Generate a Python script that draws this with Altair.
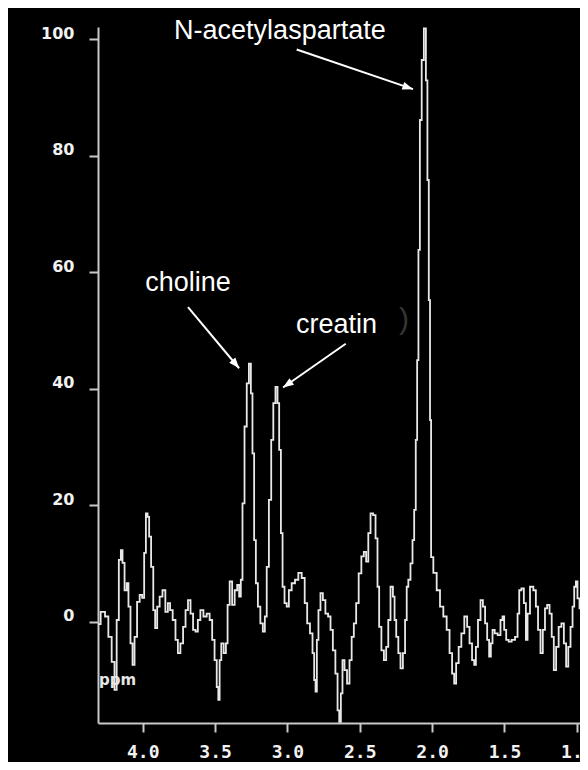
import math
import altair as alt
import pandas as pd

# ---- spectrum trace (chemical shift in ppm, signal intensity) ----
ppm = [4.309,4.272,4.249,4.226,4.203,4.187,4.173,4.157,4.145,4.134,
       4.117,4.104,4.093,4.076,4.065,4.048,4.030,4.012,3.996,3.984,
       3.972,3.961,3.950,3.934,3.920,3.908,3.892,3.874,3.853,3.834,
       3.818,3.804,3.782,3.765,3.749,3.730,3.712,3.696,3.678,3.661,
       3.643,3.627,3.611,3.592,3.569,3.547,3.528,3.512,3.495,3.482,
       3.473,3.464,3.450,3.431,3.419,3.408,3.390,3.374,3.355,3.339,
       3.328,3.316,3.305,3.288,3.274,3.258,3.247,3.236,3.224,3.212,
       3.196,3.178,3.162,3.150,3.136,3.120,3.104,3.091,3.074,3.063,
       3.051,3.039,3.028,3.012,2.998,2.982,2.959,2.936,2.913,2.890,
       2.871,2.856,2.832,2.821,2.809,2.802,2.791,2.780,2.763,2.747,
       2.728,2.710,2.694,2.678,2.659,2.648,2.636,2.625,2.614,2.597,
       2.579,2.563,2.549,2.533,2.517,2.498,2.480,2.464,2.448,2.434,
       2.417,2.399,2.383,2.372,2.360,2.341,2.325,2.310,2.296,2.279,
       2.263,2.256,2.240,2.227,2.210,2.194,2.180,2.171,2.158,2.141,
       2.130,2.118,2.108,2.099,2.090,2.079,2.065,2.049,2.037,2.028,
       2.018,2.011,2.003,1.980,1.957,1.934,1.911,1.888,1.871,1.853,
       1.842,1.826,1.807,1.789,1.766,1.750,1.733,1.715,1.703,1.692,
       1.674,1.657,1.641,1.627,1.612,1.600,1.588,1.577,1.558,1.536,
       1.519,1.508,1.496,1.480,1.462,1.439,1.415,1.404,1.392,1.374,
       1.358,1.346,1.335,1.312,1.289,1.277,1.259,1.243,1.227,1.213,
       1.197,1.180,1.167,1.151,1.135,1.116,1.097,1.082,1.066,1.052,
       1.035,1.024,1.012,1.001,0.990,0.973,0.955,0.936,0.923]

intensity = [-0.4,1.7,0.9,-2.6,-6.9,-11.7,0.3,10.6,12.3,10.1,
             5.4,6.6,2.6,-3.7,-7.4,-2.6,3.4,4.6,4.1,11.8,
             18.6,18.0,14.6,9.4,2.0,-1.1,2.6,4.3,5.4,1.7,
             3.2,2.0,0.3,-3.1,-5.4,-3.7,-0.9,2.0,3.7,1.4,
             -1.4,-1.7,0.3,2.0,0.9,1.4,0.3,-3.1,-6.6,-11.2,
             -13.4,-6.6,-3.7,-5.4,-3.7,2.9,6.9,2.9,5.4,6.3,
             4.3,7.2,20.3,33.5,40.9,44.3,39.2,28.9,14.0,6.6,
             2.6,-0.3,-1.7,0.9,9.4,20.9,31.2,37.5,40.3,37.5,
             29.5,15.2,6.0,3.2,2.6,5.4,6.6,7.2,8.4,7.5,
             3.2,-0.3,-2.0,-5.4,-10.0,-12.0,-3.1,2.0,4.9,3.7,
             1.4,0.9,-1.4,-4.9,-8.9,-15.2,-17.2,-12.3,-6.6,-8.3,
             -10.6,-6.6,-2.6,-0.3,3.2,8.3,11.2,12.0,10.3,15.2,
             18.6,18.3,14.3,6.0,-0.9,-4.9,-6.6,-4.3,0.3,6.0,
             4.3,0.3,-2.6,-5.4,-8.0,-5.4,0.3,6.0,7.2,10.0,
             14.0,19.2,31.2,44.9,63.8,86.1,96.4,101.8,92.9,75.8,
             55.2,34.6,11.1,8.4,5.4,2.6,0.9,-1.4,-5.4,-8.9,
             -10.6,-7.1,-4.3,-2.0,0.9,-0.9,-3.7,-6.6,-7.4,-4.3,
             0.3,3.7,2.6,-0.3,-3.1,-6.0,-3.7,-1.4,-2.0,-2.3,
             0.3,0.9,-1.4,-3.1,-3.4,-3.1,-2.6,1.4,5.4,5.7,
             3.2,-3.1,1.4,6.0,5.4,2.6,-1.4,-5.4,-1.4,2.3,
             2.9,1.4,-2.6,-8.3,-4.3,-0.9,-0.3,-3.7,-7.7,-4.3,
             -0.9,2.6,6.0,6.9,4.0,2.3,1.7,1.7,0.9]

x_ticks = [4.0, 3.5, 3.0, 2.5, 2.0, 1.5, 1.0]
y_ticks = [0, 20, 40, 60, 80, 100]

# ---- annotations ----
label_text = ["N-acetylaspartate", "choline", "creatin"]
label_ppm = [3.052, 3.687, 2.661]
label_val = [100.0, 56.7, 49.5]

arrow_ppm_start = [2.936, 3.687, 2.597]
arrow_val_start = [98.2, 54.0, 47.7]
arrow_ppm_end = [2.132, 3.334, 3.030]
arrow_val_end = [91.4, 43.5, 40.2]

unit_text = ["ppm"]
unit_ppm = [4.302]
unit_val = [-10.9]

mark_text_ = [")"]
mark_ppm = [2.194]
mark_val = [51.8]

X_MIN, X_MAX = 0.978, 4.309
Y_MIN, Y_MAX = -17.38, 102.06
W, H = 482, 696
HEAD_R = 6  # arrowhead half-length in px

spec_df = pd.DataFrame({"ppm": ppm, "val": intensity})
label_df = pd.DataFrame({"t": label_text, "x": label_ppm, "y": label_val})
arrow_df = pd.DataFrame({"x": arrow_ppm_start, "y": arrow_val_start,
                         "x2": arrow_ppm_end, "y2": arrow_val_end})
unit_df = pd.DataFrame({"t": unit_text, "x": unit_ppm, "y": unit_val})
faint_df = pd.DataFrame({"t": mark_text_, "x": mark_ppm, "y": mark_val})

# arrowhead orientation, derived from the scales
kx = W / (X_MAX - X_MIN)
ky = H / (Y_MAX - Y_MIN)
heads = []
for xs_, ys_, xe, ye in zip(arrow_ppm_start, arrow_val_start, arrow_ppm_end, arrow_val_end):
    dx = -(xe - xs_) * kx
    dy = -(ye - ys_) * ky
    L = math.hypot(dx, dy)
    ux, uy = dx / L, dy / L
    ang = math.degrees(math.atan2(ux, -uy)) % 360
    heads.append({"x": xe + ux * HEAD_R / kx, "y": ye + uy * HEAD_R / ky, "ang": ang})
head_df = pd.DataFrame(heads)

xs = alt.Scale(domain=[X_MIN, X_MAX], reverse=True, nice=False, zero=False)
ys = alt.Scale(domain=[Y_MIN, Y_MAX], nice=False, zero=False)

AX = "#c8c8c8"
LBL = "#f2f2f2"

x_axis = alt.Axis(values=x_ticks, format=".1f", title=None, grid=False,
                  domainColor=AX, domainWidth=2, tickColor=AX, tickWidth=2, tickSize=9,
                  labelColor=LBL, labelFont="DejaVu Sans Mono", labelFontWeight="bold",
                  labelFontSize=18, labelPadding=11, labelFlush=False, labelOverlap=False)
y_axis = alt.Axis(values=y_ticks, format="d", title=None, grid=False,
                  domainColor=AX, domainWidth=2, tickColor=AX, tickWidth=2, tickSize=9,
                  labelColor=LBL, labelFont="DejaVu Sans", labelFontWeight="bold",
                  labelFontSize=16, labelPadding=15, labelOffset=-6, labelFlush=False)

line = alt.Chart(spec_df).mark_line(interpolate="step", color="#e8e8e8",
                                    strokeWidth=1.8, clip=True).encode(
    x=alt.X("ppm:Q", scale=xs, axis=x_axis),
    y=alt.Y("val:Q", scale=ys, axis=y_axis),
)

arrows = alt.Chart(arrow_df).mark_rule(color="white", strokeWidth=2).encode(
    x=alt.X("x:Q", scale=xs, axis=x_axis),
    y=alt.Y("y:Q", scale=ys, axis=y_axis),
    x2="x2:Q", y2="y2:Q",
)

head_path = "M0,-1L0.65,0.75L-0.65,0.75Z"
arrow_heads = alt.Chart(head_df).mark_point(shape=head_path, filled=True, size=150,
                                            color="white", opacity=1, strokeWidth=0).encode(
    x=alt.X("x:Q", scale=xs, axis=x_axis),
    y=alt.Y("y:Q", scale=ys, axis=y_axis),
    angle=alt.Angle("ang:Q", scale=None),
)

labels = alt.Chart(label_df).mark_text(font="Liberation Sans", fontSize=27, color="white",
                                       align="center", baseline="alphabetic").encode(
    x=alt.X("x:Q", scale=xs, axis=x_axis),
    y=alt.Y("y:Q", scale=ys, axis=y_axis),
    text="t:N",
)

unit = alt.Chart(unit_df).mark_text(font="DejaVu Sans", fontWeight="bold", fontSize=15,
                                    color="#e6e6e6", align="left", baseline="alphabetic").encode(
    x=alt.X("x:Q", scale=xs, axis=x_axis),
    y=alt.Y("y:Q", scale=ys, axis=y_axis),
    text="t:N",
)

faint = alt.Chart(faint_df).mark_text(font="Liberation Sans", fontSize=30, color="#353535",
                                      align="center", baseline="middle").encode(
    x=alt.X("x:Q", scale=xs, axis=x_axis),
    y=alt.Y("y:Q", scale=ys, axis=y_axis),
    text="t:N",
)

chart = alt.layer(line, arrows, arrow_heads, labels, unit, faint).properties(
    width=W, height=H,
    background="black",
    padding={"left": 90, "top": 19, "right": 0, "bottom": 39},
    autosize=alt.AutoSizeParams(type="none"),
).configure_view(stroke=None)

chart.save("out.html", embed_options={"renderer": "svg", "actions": False})
